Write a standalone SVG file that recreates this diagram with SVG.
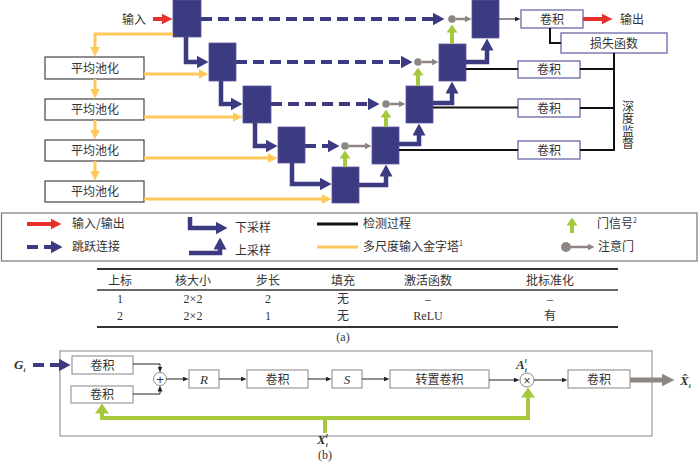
<svg xmlns="http://www.w3.org/2000/svg" width="700" height="462" viewBox="0 0 700 462">
<style>
text{font-family:"Noto Sans CJK SC","Liberation Sans",sans-serif;font-size:12px;fill:#333}
.c{text-anchor:middle}
.tb{font-family:"Liberation Serif","Noto Sans CJK SC",serif;font-size:12px;text-anchor:middle}
.math{font-family:"Liberation Serif",serif;font-weight:bold;font-style:italic;font-size:13px}
.blk{fill:#3c3a80;stroke:#5a58a0;stroke-width:0.8}
.pool{fill:#fff;stroke:#444;stroke-width:1.2}
.conv{fill:#fff;stroke:#6b68a8;stroke-width:1.3}
.bx{fill:#fff;stroke:#999;stroke-width:1.2}
.nv{fill:none;stroke:#3c3a80;stroke-width:4.5}
.dash{fill:none;stroke:#3c3a80;stroke-width:4;stroke-dasharray:11 6}
.yl{fill:none;stroke:#fdc95a;stroke-width:3}
.gr{fill:none;stroke:#a6c83c;stroke-width:4}
.gy{fill:none;stroke:#8e8682;stroke-width:2.5}
.bk{fill:none;stroke:#111;stroke-width:2}
.thin{fill:none;stroke:#222;stroke-width:1}
.rd{fill:none;stroke:#e8302a;stroke-width:4}
.dot{fill:#8e8682}
</style>
<defs>
<marker id="mNavy" markerUnits="userSpaceOnUse" markerWidth="12" markerHeight="13" refX="0.5" refY="6.5" orient="auto"><path d="M0,0 L12,6.5 L0,13 z" fill="#3c3a80"/></marker>
<marker id="mYel" markerUnits="userSpaceOnUse" markerWidth="10" markerHeight="10" refX="0.5" refY="5" orient="auto"><path d="M0,0 L10,5 L0,10 z" fill="#fdc95a"/></marker>
<marker id="mGrn" markerUnits="userSpaceOnUse" markerWidth="8" markerHeight="11" refX="0.5" refY="5.5" orient="auto"><path d="M0,0 L8,5.5 L0,11 z" fill="#a6c83c"/></marker>
<marker id="mGrnB" markerUnits="userSpaceOnUse" markerWidth="10" markerHeight="14" refX="0.5" refY="7" orient="auto"><path d="M0,0 L10,7 L0,14 z" fill="#a6c83c"/></marker>
<marker id="mGray" markerUnits="userSpaceOnUse" markerWidth="7" markerHeight="7" refX="0.5" refY="3.5" orient="auto"><path d="M0,0 L7,3.5 L0,7 z" fill="#8e8682"/></marker>
<marker id="mGrayB" markerUnits="userSpaceOnUse" markerWidth="13" markerHeight="13" refX="0.5" refY="6.5" orient="auto"><path d="M0,0 L13,6.5 L0,13 z" fill="#8e8682"/></marker>
<marker id="mRed" markerUnits="userSpaceOnUse" markerWidth="11" markerHeight="11" refX="0.5" refY="5.5" orient="auto"><path d="M0,0 L11,5.5 L0,11 z" fill="#e8302a"/></marker>
<marker id="mBk" markerUnits="userSpaceOnUse" markerWidth="6" markerHeight="5" refX="0.5" refY="2.5" orient="auto"><path d="M0,0 L6,2.5 L0,5 z" fill="#222"/></marker>
</defs>

<!-- U-Net blocks -->
<g id="b1"><rect class="blk" x="173" y="0" width="28" height="37"/></g>
<g id="b2"><rect class="blk" x="209" y="43" width="27" height="38"/></g>
<g id="b3"><rect class="blk" x="243" y="86" width="28" height="37"/></g>
<g id="b4"><rect class="blk" x="278" y="127" width="27" height="36"/></g>
<g id="b5"><rect class="blk" x="332" y="167" width="27" height="36"/></g>
<g id="b6"><rect class="blk" x="372" y="127" width="27" height="37"/></g>
<g id="b7"><rect class="blk" x="406" y="86" width="27" height="37"/></g>
<g id="b8"><rect class="blk" x="439" y="44" width="27" height="37"/></g>
<g id="b9"><rect class="blk" x="472" y="0" width="27" height="38"/></g>

<!-- pooling boxes -->
<g id="pool1"><rect class="pool" x="45" y="57" width="99" height="22"/><text class="c" x="95" y="72.5">平均池化</text></g>
<g id="pool2"><rect class="pool" x="45" y="99" width="99" height="21"/><text class="c" x="95" y="114">平均池化</text></g>
<g id="pool3"><rect class="pool" x="45" y="140" width="99" height="21"/><text class="c" x="95" y="155">平均池化</text></g>
<g id="pool4"><rect class="pool" x="45" y="181" width="99" height="21"/><text class="c" x="95" y="196">平均池化</text></g>

<!-- conv / loss boxes -->
<g id="convOut"><rect class="conv" x="521" y="10" width="62" height="18"/><text class="c" x="552" y="23.5">卷积</text></g>
<g id="loss"><rect class="conv" x="561" y="33" width="106" height="20"/><text class="c" x="614" y="47.5">损失函数</text></g>
<g id="conv1"><rect class="conv" x="518" y="61" width="62" height="17"/><text class="c" x="549" y="74">卷积</text></g>
<g id="conv2"><rect class="conv" x="518" y="99" width="62" height="18"/><text class="c" x="549" y="112.5">卷积</text></g>
<g id="conv3"><rect class="conv" x="518" y="141" width="62" height="18"/><text class="c" x="549" y="154.5">卷积</text></g>

<g id="labels">
<text x="146" y="24" text-anchor="end">输入</text>
<text x="620" y="24">输出</text>
<text x="628" y="100" style="writing-mode:vertical-rl" letter-spacing="0.5">深度监督</text>
</g>

<g id="connectors">
<!-- input/output -->
<path class="rd" d="M153,19 H162" marker-end="url(#mRed)"/>
<path class="rd" d="M583,19 H602" marker-end="url(#mRed)"/>
<!-- yellow pyramid -->
<path class="yl" d="M173,34 H95 V47" marker-end="url(#mYel)"/>
<path class="yl" d="M95,79 V89" marker-end="url(#mYel)"/>
<path class="yl" d="M95,120 V130" marker-end="url(#mYel)"/>
<path class="yl" d="M95,161 V171" marker-end="url(#mYel)"/>
<path class="yl" d="M144,74 H199" marker-end="url(#mYel)"/>
<path class="yl" d="M144,117 H233" marker-end="url(#mYel)"/>
<path class="yl" d="M144,158 H268" marker-end="url(#mYel)"/>
<path class="yl" d="M144,199 H322" marker-end="url(#mYel)"/>
<!-- downsampling -->
<path class="nv" d="M186,37 V62 H197" marker-end="url(#mNavy)"/>
<path class="nv" d="M221,81 V104 H231" marker-end="url(#mNavy)"/>
<path class="nv" d="M255,123 V146 H266" marker-end="url(#mNavy)"/>
<path class="nv" d="M292,163 V184 H320" marker-end="url(#mNavy)"/>
<!-- upsampling -->
<path class="nv" d="M359,185 H386 V176" marker-end="url(#mNavy)"/>
<path class="nv" d="M399,144 H419 V135" marker-end="url(#mNavy)"/>
<path class="nv" d="M433,103 H452 V93" marker-end="url(#mNavy)"/>
<path class="nv" d="M466,62 H487 V50" marker-end="url(#mNavy)"/>
<!-- skip connections -->
<path class="dash" d="M201,19 H433" marker-end="url(#mNavy)"/>
<path class="dash" d="M236,62 H401" marker-end="url(#mNavy)"/>
<path class="dash" d="M271,104 H368" marker-end="url(#mNavy)"/>
<path class="dash" d="M305,146 H328" marker-end="url(#mNavy)"/>
<!-- attention gates -->
<circle class="dot" cx="452" cy="19" r="3.8"/>
<circle class="dot" cx="418" cy="62" r="3.8"/>
<circle class="dot" cx="386" cy="104" r="3.8"/>
<circle class="dot" cx="345" cy="146" r="3.8"/>
<path class="gy" d="M456,19 H465" marker-end="url(#mGray)"/>
<path class="gy" d="M422,62 H432" marker-end="url(#mGray)"/>
<path class="gy" d="M390,104 H399" marker-end="url(#mGray)"/>
<path class="gy" d="M349,146 H365" marker-end="url(#mGray)"/>
<!-- gating signals -->
<path class="gr" d="M452,44 V32" marker-end="url(#mGrn)"/>
<path class="gr" d="M418,86 V75" marker-end="url(#mGrn)"/>
<path class="gr" d="M386,127 V117" marker-end="url(#mGrn)"/>
<path class="gr" d="M345,167 V158" marker-end="url(#mGrn)"/>
<!-- detection -->
<path class="thin" d="M499,19 H515" marker-end="url(#mBk)"/>
<path class="bk" d="M466,69 H518"/>
<path class="bk" d="M433,107.5 H518"/>
<path class="bk" d="M399,150 H518"/>
<path class="bk" d="M580,69 H614"/>
<path class="bk" d="M580,108 H614"/>
<path class="bk" d="M580,150 H614"/>
<path class="bk" d="M614,53 V151"/>
<path class="bk" d="M550,28 V43 H561"/>
</g>

<!-- legend -->
<g id="legend">
<rect x="1.5" y="213" width="695.5" height="48" fill="#fff" stroke="#777" stroke-width="1.2"/>
<path class="rd" d="M27,224 H51" marker-end="url(#mRed)"/>
<text x="72" y="228">输入/输出</text>
<path class="dash" d="M27,247 H51" stroke-dasharray="12 6" marker-end="url(#mNavy)"/>
<text x="72" y="251">跳跃连接</text>
<path class="nv" d="M190,217 V228 H216" marker-end="url(#mNavy)"/>
<text x="235" y="232">下采样</text>
<path class="nv" d="M189,253 H220 V249" marker-end="url(#mNavy)"/>
<text x="235" y="255">上采样</text>
<path d="M317,224 H358" fill="none" stroke="#111" stroke-width="3"/>
<text x="363" y="228">检测过程</text>
<path class="yl" d="M317,247 H358"/>
<text x="363" y="251">多尺度输入金字塔<tspan font-size="7" dy="-5">1</tspan></text>
<path class="gr" d="M572,233 V225" marker-end="url(#mGrn)"/>
<text x="597" y="228">门信号<tspan font-size="7" dy="-5">2</tspan></text>
<circle class="dot" cx="566" cy="247" r="5"/>
<path class="gy" d="M570,247 H588" marker-end="url(#mGray)"/>
<text x="598" y="251">注意门</text>
</g>

<!-- table -->
<g id="table">
<path d="M97,269 H618" stroke="#333" stroke-width="2"/>
<path d="M97,290 H618" stroke="#333" stroke-width="1.5"/>
<path d="M97,327 H618" stroke="#333" stroke-width="2"/>
<text class="tb" x="120" y="285">上标</text>
<text class="tb" x="193" y="285">核大小</text>
<text class="tb" x="268" y="285">步长</text>
<text class="tb" x="343" y="285">填充</text>
<text class="tb" x="428" y="285">激活函数</text>
<text class="tb" x="550" y="285">批标准化</text>
<text class="tb" x="120" y="303">1</text>
<text class="tb" x="193" y="303">2×2</text>
<text class="tb" x="268" y="303">2</text>
<text class="tb" x="343" y="303">无</text>
<text class="tb" x="428" y="303">–</text>
<text class="tb" x="550" y="303">–</text>
<text class="tb" x="120" y="320">2</text>
<text class="tb" x="193" y="320">2×2</text>
<text class="tb" x="268" y="320">1</text>
<text class="tb" x="343" y="320">无</text>
<text class="tb" x="428" y="320">ReLU</text>
<text class="tb" x="550" y="320">有</text>
<text class="tb" x="343" y="341">(a)</text>
</g>

<!-- part (b) -->
<g id="attention-block">
<rect x="60" y="351" width="592" height="85" fill="none" stroke="#999" stroke-width="1.2"/>
</g>
<g id="bconv1"><rect class="bx" x="72" y="356" width="61" height="18"/><text class="c" x="102.5" y="369.5">卷积</text></g>
<g id="bconv2"><rect class="bx" x="71" y="386" width="62" height="17"/><text class="c" x="102" y="399">卷积</text></g>
<g id="plus"><circle cx="160" cy="379" r="6.5" fill="#fff" stroke="#888" stroke-width="1"/><text class="c" x="160" y="383.5" style="font-family:'Liberation Sans',sans-serif;font-size:13px">+</text></g>
<g id="bR"><rect class="bx" x="189" y="370" width="30" height="18"/><text class="c math" x="204" y="383.5" style="font-weight:normal">R</text></g>
<g id="bconv3"><rect class="bx" x="247" y="370" width="61" height="18"/><text class="c" x="277.5" y="383.5">卷积</text></g>
<g id="bS"><rect class="bx" x="332" y="370" width="30" height="18"/><text class="c math" x="347" y="383.5" style="font-weight:normal">S</text></g>
<g id="btrans"><rect class="bx" x="390" y="370" width="99" height="18"/><text class="c" x="439.5" y="383.5">转置卷积</text></g>
<g id="times"><circle cx="527" cy="380" r="7" fill="#fff" stroke="#888" stroke-width="1"/><text class="c" x="527" y="384.5" style="font-family:'Liberation Sans',sans-serif;font-size:12px">×</text></g>
<g id="bconv4"><rect class="bx" x="568" y="370" width="62" height="18"/><text class="c" x="599" y="383.5">卷积</text></g>

<g id="blabels">
<text class="math" x="14" y="369">G<tspan font-size="7" dy="3">i</tspan></text>
<text class="math" x="516" y="369">A<tspan font-size="7" dy="3">i</tspan><tspan font-size="7" dx="-2" dy="-9">l</tspan></text>
<text class="math" x="680" y="385">X̂<tspan font-size="7" dy="3">i</tspan></text>
<text class="math" x="317" y="444">X<tspan font-size="7" dy="3">i</tspan><tspan font-size="7" dx="-2" dy="-9">l</tspan></text>
<text class="tb" x="325" y="459">(b)</text>
</g>

<g id="bconnectors">
<path class="dash" d="M33,365 H59" stroke-dasharray="10 5" marker-end="url(#mNavy)"/>
<path class="thin" d="M133,364 H160 V367" marker-end="url(#mBk)"/>
<path class="thin" d="M133,394 H160 V391" marker-end="url(#mBk)"/>
<path class="thin" d="M166.5,379 H183" marker-end="url(#mBk)"/>
<path class="thin" d="M219,379 H241" marker-end="url(#mBk)"/>
<path class="thin" d="M308,379 H326" marker-end="url(#mBk)"/>
<path class="thin" d="M362,379 H384" marker-end="url(#mBk)"/>
<path class="thin" d="M489,380 H514" marker-end="url(#mBk)"/>
<path class="thin" d="M534,380 H562" marker-end="url(#mBk)"/>
<path d="M630,380 H662" fill="none" stroke="#8e8682" stroke-width="5" marker-end="url(#mGrayB)"/>
<path class="gr" d="M325,433 V418 H102 V413" marker-end="url(#mGrnB)"/>
<path class="gr" d="M325,418 H528 V397" marker-end="url(#mGrnB)"/>
</g>
</svg>
